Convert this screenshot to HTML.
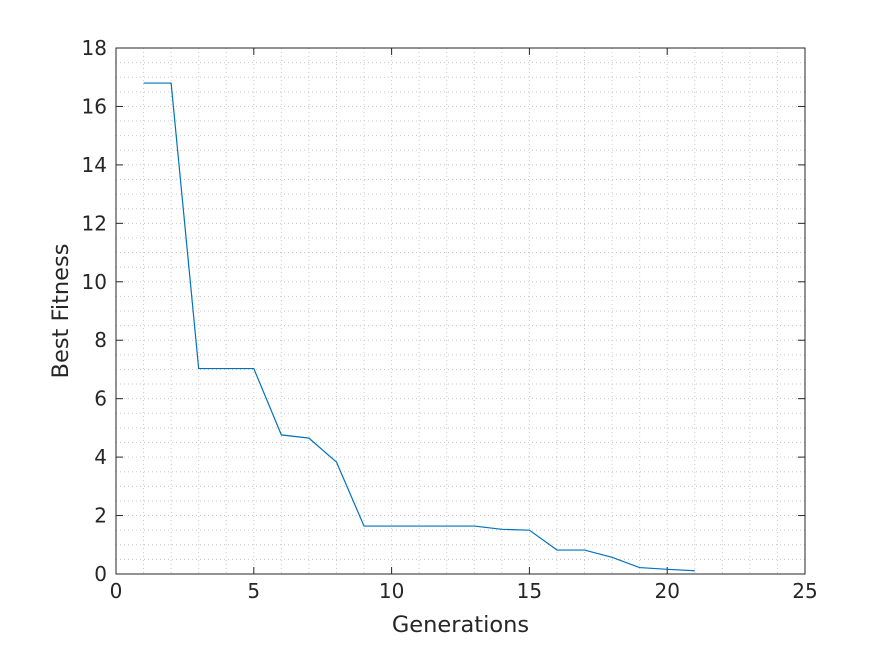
<!DOCTYPE html>
<html><head><meta charset="utf-8"><style>
body{margin:0;background:#fff;}
svg{display:block;font-family:"DejaVu Sans","Liberation Sans",sans-serif;}
</style></head><body>
<svg id="chart" width="891" height="645"></svg>
<script>
const generations=[1,2,3,4,5,6,7,8,9,10,11,12,13,14,15,16,17,18,19,20,21];
const bestFitness=[16.8,16.8,7.03,7.03,7.03,4.76,4.65,3.83,1.64,1.64,1.64,1.64,1.64,1.53,1.5,0.82,0.82,0.57,0.22,0.16,0.11];
const xTicks=[0,5,10,15,20,25];
const yTicks=[0,2,4,6,8,10,12,14,16,18];
const L=116,R=805,T=48,B=574,xMax=25,yMax=18;
const sx=v=>L+(R-L)*v/xMax, sy=v=>B-(B-T)*v/yMax;
const svg=document.getElementById('chart');const NS='http://www.w3.org/2000/svg';
function mk(t,a,p){const e=document.createElementNS(NS,t);for(const k in a)e.setAttribute(k,a[k]);(p||svg).appendChild(e);return e;}
const bg=mk('rect',{x:L,y:T,width:R-L,height:B-T,fill:'#fff'});


const grid=mk('g',{});


for(let v=1;v<xMax;v++){mk('line',{x1:sx(v),x2:sx(v),y1:T,y2:B,stroke:'#c8c8c8','stroke-dasharray':'1,3','stroke-width':1},grid);}
for(let v=0.5;v<yMax;v+=0.5){mk('line',{x1:L,x2:R,y1:sy(v),y2:sy(v),stroke:'#c8c8c8','stroke-dasharray':'1,3','stroke-width':1},grid);}
const frame=mk('rect',{x:L,y:T,width:R-L,height:B-T,fill:'none',stroke:'#262626','stroke-width':1});


xTicks.forEach(v=>{
 mk('line',{x1:sx(v),x2:sx(v),y1:B,y2:B-7,stroke:'#262626'});
 mk('line',{x1:sx(v),x2:sx(v),y1:T,y2:T+7,stroke:'#262626'});
 const t=mk('text',{x:sx(v),y:B+24,'text-anchor':'middle','font-size':20,fill:'#262626'});t.textContent=v;
 
 
});
yTicks.forEach(v=>{
 mk('line',{x1:L,x2:L+7,y1:sy(v),y2:sy(v),stroke:'#262626'});
 mk('line',{x1:R,x2:R-7,y1:sy(v),y2:sy(v),stroke:'#262626'});
 const t=mk('text',{x:L-9,y:sy(v)+7,'text-anchor':'end','font-size':20,fill:'#262626'});t.textContent=v;
 
 
});
const line=mk('polyline',{points:generations.map((g,i)=>sx(g)+','+sy(bestFitness[i])).join(' '),fill:'none',stroke:'#0072bd','stroke-width':1.2});


const xl=mk('text',{x:(L+R)/2,y:632,'text-anchor':'middle','font-size':22.5,fill:'#262626'});xl.textContent='Generations';


const yl=mk('text',{x:0,y:0,'text-anchor':'middle','font-size':22.5,fill:'#262626',transform:'translate(68,311) rotate(-90)'});yl.textContent='Best Fitness';


</script>
</body></html>
